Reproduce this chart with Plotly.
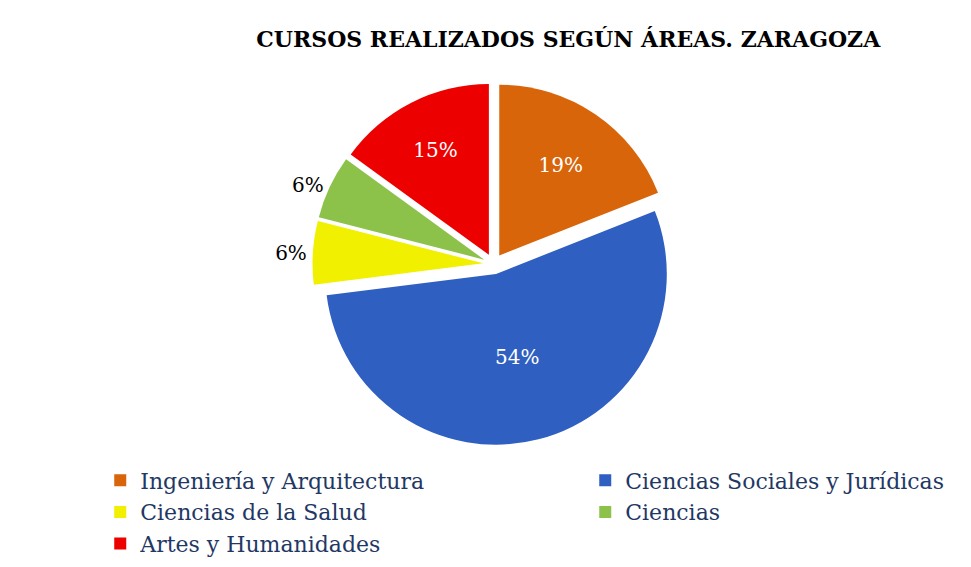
import plotly.graph_objects as go

areas = ["Ingeniería y Arquitectura", "Ciencias Sociales y Jurídicas",
         "Ciencias de la Salud", "Ciencias", "Artes y Humanidades"]
porcentajes = [19, 54, 6, 6, 15]
colores = ["#d8650a", "#2f5fc0", "#f0f000", "#8cc24a", "#ec0000"]
posiciones = ["inside", "inside", "outside", "outside", "inside"]

fig = go.Figure(go.Pie(
    labels=areas,
    values=porcentajes,
    sort=False,
    direction="clockwise",
    rotation=0,
    pull=[0.06, 0.06, 0.06, 0.06, 0.06],
    marker=dict(colors=colores, line=dict(width=0)),
    textinfo="percent",
    texttemplate="%{percent:.0%}",
    textposition=posiciones,
    insidetextfont=dict(color="white", size=20, family="DejaVu Serif"),
    outsidetextfont=dict(color="black", size=20, family="DejaVu Serif"),
    insidetextorientation="horizontal",
    domain=dict(x=[0, 1], y=[0.0, 1.0]),
    showlegend=True,
))

fig.update_layout(
    width=971, height=567,
    paper_bgcolor="white",
    plot_bgcolor="white",
    margin=dict(l=0, r=0, t=75, b=130, autoexpand=False),
    title=dict(text="<b>CURSOS REALIZADOS SEGÚN ÁREAS. ZARAGOZA</b>",
               x=0.577, xanchor="center", y=0.945, yanchor="middle",
               font=dict(family="DejaVu Serif", size=22, color="black")),
    legend=dict(orientation="h", x=0.095, xanchor="left",
                y=-0.04, yanchor="top",
                entrywidth=440, entrywidthmode="pixels",
                font=dict(family="DejaVu Serif", size=22, color="#1f3864"),
                itemsizing="constant"),
)

fig.write_html("out.html")
